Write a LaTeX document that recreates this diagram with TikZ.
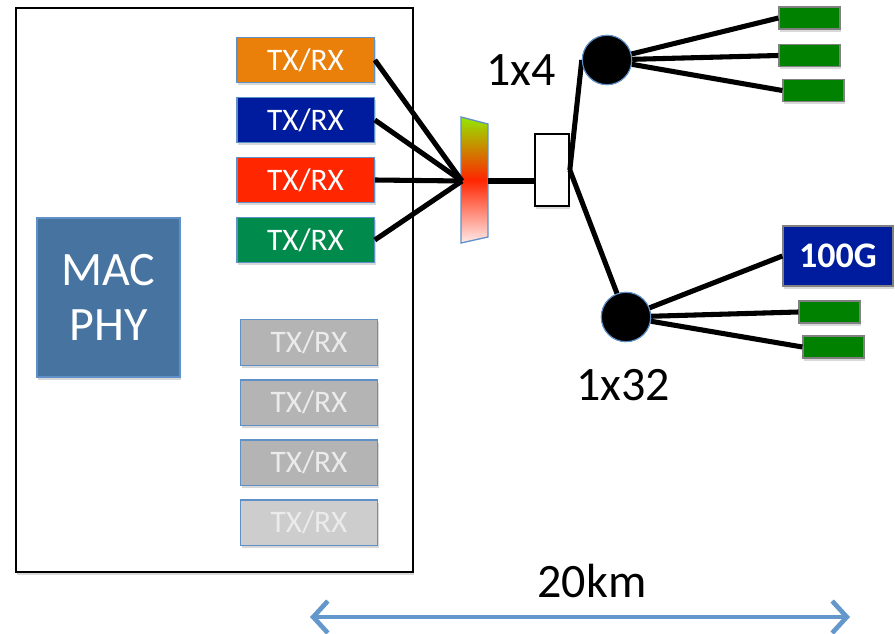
\documentclass[tikz,border=0pt]{standalone}
\usepackage{fontspec}
\setmainfont{Carlito}
\usetikzlibrary{arrows.meta,shadows,calc}
\definecolor{boxedge}{RGB}{95,145,200}
\definecolor{txorange}{RGB}{234,128,10}
\definecolor{txblue}{RGB}{0,28,158}
\definecolor{txred}{RGB}{255,38,0}
\definecolor{txgreen}{RGB}{0,138,76}
\definecolor{txgray}{RGB}{180,180,180}
\definecolor{txlight}{RGB}{205,205,205}
\definecolor{macblue}{RGB}{70,115,160}
\definecolor{onugreen}{RGB}{0,130,0}
\definecolor{spanblue}{RGB}{100,152,205}
\definecolor{muxtop}{RGB}{150,230,0}
\definecolor{muxbot}{RGB}{255,235,235}
\tikzset{
    block/.style = {draw=boxedge, rectangle, line width=1pt,
        minimum height=34pt,
        minimum width=103pt, align=center, text=white,
        font=\fontsize{23.5}{26}\selectfont,
        drop shadow={opacity=0.3,shadow xshift=1pt,shadow yshift=-2pt}},
    idle/.style = {block, text=white!92!black},
    onu/.style = {draw=gray, fill=onugreen, rectangle, line width=1pt,
        minimum width=45.75pt, minimum height=16.5pt, inner sep=0pt,
        drop shadow={opacity=0.3,shadow xshift=1pt,shadow yshift=-2pt}},
    split/.style = {draw=boxedge, fill=black, circle, line width=0.8pt,
        minimum size=37pt, inner sep=0pt},
    fibre/.style = {draw, line width=3.8pt},
    label/.style = {font=\fontsize{36}{38}\selectfont}
}

\begin{document}
\begin{tikzpicture}[x=0.75pt, y=-0.75pt, node distance=45pt]
        \useasboundingbox (0,0) rectangle (895,634);
        \node [draw, fill=white, line width=1pt, minimum width=297.75pt, minimum height=423pt,
            drop shadow={opacity=0.3,shadow xshift=1pt,shadow yshift=-2pt}] (olt) at (214.5,290) {};
        \node [block, fill=macblue, minimum width=107.25pt, minimum height=119.25pt,
            font=\fontsize{36}{41}\selectfont] (mac) at (108.5,297.5) {MAC\\PHY};
        \node [block, fill=txorange] (tx1) at (305.5,60) {TX/RX};
        \node [block, fill=txblue, below of=tx1] (tx2) {TX/RX};
        \node [block, fill=txred, below of=tx2] (tx3) {TX/RX};
        \node [block, fill=txgreen, below of=tx3] (tx4) {TX/RX};
        \node [idle, fill=txgray] (tx5) at (309,342.5) {TX/RX};
        \node [idle, fill=txgray, below of=tx5] (tx6) {TX/RX};
        \node [idle, fill=txgray, below of=tx6] (tx7) {TX/RX};
        \node [idle, fill=txlight, below of=tx7] (tx8) {TX/RX};
        \shade [top color=muxtop, bottom color=muxbot, middle color=txred,
            draw=boxedge, line width=1pt]
            (461,117) -- (488,124) -- (488,237) -- (461,243) -- cycle;
        \coordinate (muxin) at (462,181);
        \coordinate (muxout) at (488,181);
        \node [draw, fill=white, line width=1.2pt, minimum width=25.5pt, minimum height=54pt,
            drop shadow={opacity=0.3,shadow xshift=1pt,shadow yshift=-2pt}] (coupler) at (552,170) {};
        \node [split] (split4) at (607,60) {};
        \node [split] (split32) at (626,317) {};
        \node [label] (lbl4) at (521,70) {1x4};
        \node [label] (lbl32) at (623,385) {1x32};
        \node [onu] (onu1) at (809.5,18) {};
        \node [onu] (onu2) at (809.5,55.5) {};
        \node [onu] (onu3) at (813.5,90.5) {};
        \node [block, fill=txblue, draw=gray, minimum width=82.5pt, minimum height=45pt,
            font=\fontsize{27}{29}\selectfont\bfseries] (hundred) at (838,256) {100G};
        \node [onu] (onu4) at (829.5,312) {};
        \node [onu] (onu5) at (833.5,347) {};
        \foreach \t in {tx1,tx2,tx3,tx4}
            \draw [fibre] (\t.east) -- (muxin);
        \draw [fibre] (muxout) -- (muxout -| coupler.west);
        \draw [fibre] (coupler.east) -- (split4.west);
        \draw [fibre] (coupler.east) -- (split32);
        \foreach \o in {onu1,onu2,onu3}
            \draw [fibre] (split4) -- (\o.west);
        \foreach \o in {hundred,onu4,onu5}
            \draw [fibre] (split32) -- (\o.west);
        \node [split] at (split4) {};
        \node [split] at (split32) {};
        \node [label] (span) at (592,581) {20km};
        \coordinate (spanl) at (310,617);
        \coordinate (spanr) at (850,617);
        \draw [spanblue, line width=3.5pt,
            {Straight Barb[length=11pt,width=24pt]}-{Straight Barb[length=11pt,width=24pt]}]
            (spanl) -- (spanr);
    \end{tikzpicture}
\end{document}
